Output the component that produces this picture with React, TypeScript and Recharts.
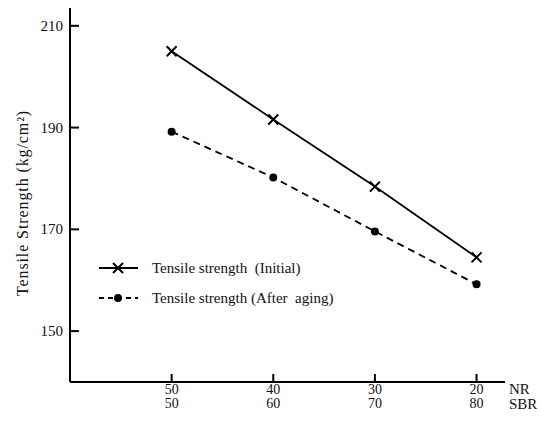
import React from 'react';
import { LineChart, Line, XAxis, YAxis, Legend, Label } from 'recharts';

const nrRatio = [50, 40, 30, 20];
const sbrRatio = [50, 60, 70, 80];
const initialStrength = [205, 191.6, 178.4, 164.5];
const agedStrength = [189.2, 180.2, 169.6, 159.2];
const yTicks = [150, 170, 190, 210];

const data = nrRatio.map((nr, i) => ({
  nr,
  sbr: sbrRatio[i],
  initial: initialStrength[i],
  aged: agedStrength[i],
}));

const FONT = '"Liberation Serif", "DejaVu Serif", serif';

const CrossDot = (props: any) => {
  const { cx, cy } = props;
  if (cx == null || cy == null) return null;
  const s = 5;
  return (
    <g stroke="#000" strokeWidth={2}>
      <line x1={cx - s} y1={cy - s} x2={cx + s} y2={cy + s} />
      <line x1={cx - s} y1={cy + s} x2={cx + s} y2={cy - s} />
    </g>
  );
};

const CircleDot = (props: any) => {
  const { cx, cy } = props;
  if (cx == null || cy == null) return null;
  return <circle cx={cx} cy={cy} r={4} fill="#000" />;
};

const YTick = (props: any) => {
  const { x, y, payload } = props;
  return (
    <g>
      <line x1={x} y1={y} x2={x + 9} y2={y} stroke="#000" strokeWidth={2} />
      <text x={x - 7} y={y + 5} textAnchor="end" fontFamily={FONT} fontSize={15} fill="#111">
        {payload.value}
      </text>
    </g>
  );
};

const XTick = (props: any) => {
  const { x, y, payload } = props;
  const idx = nrRatio.indexOf(payload.value);
  return (
    <g>
      <line x1={x} y1={y} x2={x} y2={y - 8} stroke="#000" strokeWidth={2} />
      <text x={x} y={y + 12} textAnchor="middle" fontFamily={FONT} fontSize={14} fill="#111">
        {payload.value}
      </text>
      <text x={x} y={y + 26} textAnchor="middle" fontFamily={FONT} fontSize={14} fill="#111">
        {idx >= 0 ? sbrRatio[idx] : ''}
      </text>
    </g>
  );
};

const AxisNames = (props: any) => {
  const { viewBox } = props;
  const x = viewBox.x + viewBox.width;
  const y = viewBox.y;
  return (
    <g fontFamily={FONT} fontSize={15} fill="#111">
      <text x={x + 4} y={y + 12}>NR</text>
      <text x={x + 4} y={y + 27}>SBR</text>
    </g>
  );
};

const YTitle = (props: any) => {
  const { viewBox } = props;
  const x = viewBox.x + 12;
  const y = viewBox.y + viewBox.height / 2 + 8;
  return (
    <text
      x={x}
      y={y}
      transform={`rotate(-90, ${x}, ${y})`}
      textAnchor="middle"
      dominantBaseline="central"
      fontFamily={FONT}
      fontSize={16}
      letterSpacing={0.9}
      fill="#111"
    >
      Tensile Strength (kg/cm²)
    </text>
  );
};

const LegendContent = () => (
  <div style={{ fontFamily: FONT, fontSize: 15, color: '#111' }}>
    <div style={{ display: 'flex', alignItems: 'center', height: 30 }}>
      <svg width={50} height={14}>
        <line x1={3} y1={7} x2={42} y2={7} stroke="#000" strokeWidth={1.8} />
        <CrossDot cx={22} cy={7} />
      </svg>
      <span style={{ marginLeft: 6 }}>Tensile strength&nbsp; (Initial)</span>
    </div>
    <div style={{ display: 'flex', alignItems: 'center', height: 30 }}>
      <svg width={50} height={14}>
        <line x1={3} y1={7} x2={42} y2={7} stroke="#000" strokeWidth={1.8} strokeDasharray="5 4" />
        <CircleDot cx={22} cy={7} />
      </svg>
      <span style={{ marginLeft: 6 }}>Tensile strength (After&nbsp; aging)</span>
    </div>
  </div>
);

export default function App() {
  return (
    <div style={{ position: 'absolute', left: 0, top: 0, background: '#fff' }}>
      <LineChart
        width={540}
        height={422}
        data={data}
        margin={{ top: 8, right: 35, bottom: 0, left: 10 }}
      >
        <XAxis
          dataKey="nr"
          type="number"
          domain={[17.2, 60]}
          reversed
          ticks={nrRatio}
          height={40}
          tickSize={0}
          tickMargin={0}
          tickLine={false}
          tick={<XTick />}
          axisLine={{ stroke: '#000', strokeWidth: 2 }}
          allowDataOverflow
        >
          <Label content={<AxisNames />} />
        </XAxis>
        <YAxis
          type="number"
          domain={[140, 213.5]}
          ticks={yTicks}
          width={60}
          tickSize={0}
          tickMargin={0}
          tickLine={false}
          tick={<YTick />}
          axisLine={{ stroke: '#000', strokeWidth: 2 }}
          allowDataOverflow
        >
          <Label content={<YTitle />} />
        </YAxis>
        <Legend
          layout="horizontal"
          align="center"
          verticalAlign="middle"
          content={<LegendContent />}
          wrapperStyle={{ left: 96, top: 253, width: 260 }}
        />
        <Line
          type="linear"
          dataKey="initial"
          stroke="#000"
          strokeWidth={1.8}
          dot={<CrossDot />}
          activeDot={false}
          isAnimationActive={false}
        />
        <Line
          type="linear"
          dataKey="aged"
          stroke="#000"
          strokeWidth={1.8}
          strokeDasharray="7 5"
          dot={<CircleDot />}
          activeDot={false}
          isAnimationActive={false}
        />
      </LineChart>
    </div>
  );
}
